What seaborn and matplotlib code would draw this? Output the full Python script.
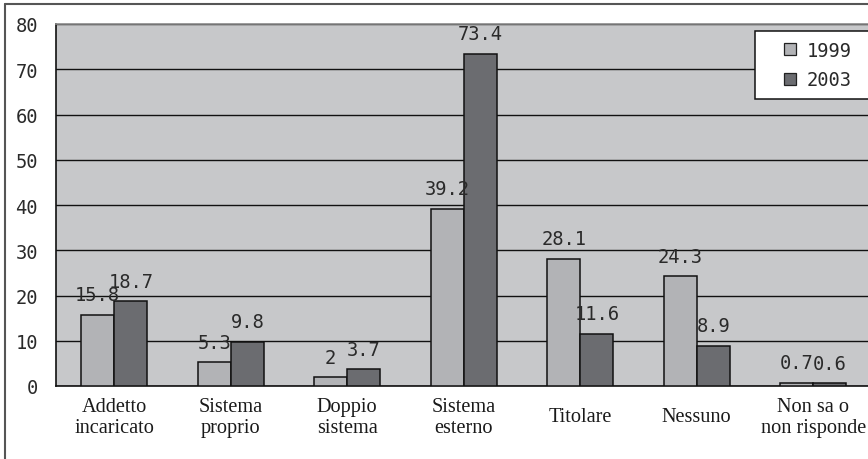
import matplotlib
matplotlib.use("Agg")
import matplotlib.pyplot as plt
from matplotlib.lines import Line2D
from matplotlib.ticker import FixedLocator
import numpy as np
import pandas as pd
import seaborn as sns

# --- data -------------------------------------------------------------
categories = ["Addetto\nincaricato", "Sistema\nproprio", "Doppio\nsistema",
              "Sistema\nesterno", "Titolare", "Nessuno", "Non sa o\nnon risponde"]
years = ["1999", "2003"]
values_1999 = [15.8, 5.3, 2, 39.2, 28.1, 24.3, 0.7]
values_2003 = [18.7, 9.8, 3.7, 73.4, 11.6, 8.9, 0.6]
y_ticks = [0, 10, 20, 30, 40, 50, 60, 70, 80]

df = pd.DataFrame({
    "categoria": categories * 2,
    "anno": [years[0]] * len(categories) + [years[1]] * len(categories),
    "valore": values_1999 + values_2003,
})

# --- styling ----------------------------------------------------------
sns.set_style("white")
mono = "DejaVu Sans Mono"
serif = "Liberation Serif"
plt.rcParams["font.family"] = [mono, "DejaVu Sans"]

text_col = "#2a2a2a"
bg_gray = "#c7c8ca"
palette = {"1999": "#b2b3b6", "2003": "#6b6c70"}

W, H = 868, 460
fig = plt.figure(figsize=(W / 100, H / 100), dpi=100)
fig.patch.set_facecolor("white")

left_px, right_px, top_px, bottom_px = 56, 871.5, 25, 387
ax = fig.add_axes([left_px / W, (H - bottom_px) / H,
                   (right_px - left_px) / W, (bottom_px - top_px) / H])
ax.set_facecolor(bg_gray)

sns.barplot(data=df, x="categoria", y="valore", hue="anno", order=categories,
            hue_order=years, palette=palette, width=0.57, edgecolor="#111111",
            linewidth=1.1, saturation=1, ax=ax, zorder=3, legend=False)

# value labels above each bar
for cont in ax.containers:
    ax.bar_label(cont, fmt="{:g}", padding=7.5, fontsize=13.5, family=mono,
                 color=text_col, zorder=5)

# axes limits, grid and spines
ax.set_xlim(-0.5, len(categories) - 0.5)
ax.set_ylim(0, 80)
ax.set_yticks(y_ticks)
ax.yaxis.grid(True, color="#111111", linewidth=1.0, zorder=1)
ax.set_axisbelow(True)
for side in ("left", "bottom"):
    ax.spines[side].set_color("#111111")
    ax.spines[side].set_linewidth(1.2)
ax.spines["top"].set_color("#8a8a8a")
ax.spines["top"].set_linewidth(1.2)
ax.spines["right"].set_visible(False)

ax.set_xlabel("")
ax.set_ylabel("")

# y ticks
ax.tick_params(axis="y", which="major", direction="out", length=5, width=1.2,
               color="#111111", pad=8, labelsize=13.5, labelcolor=text_col)

# category labels centred below each group, boundary ticks between groups
ax.set_xticks(range(len(categories)))
ax.set_xticklabels(categories, fontfamily=serif, fontsize=14.6, color="#1a1a1a")
for lab in ax.get_xticklabels():
    lab.set_verticalalignment("center")
    lab.set_multialignment("center")
    lab.set_linespacing(1.15)
ax.tick_params(axis="x", which="major", length=0, pad=22.3)
ax.xaxis.set_minor_locator(FixedLocator(np.arange(-0.5, len(categories), 1.0)))
ax.tick_params(axis="x", which="minor", direction="out", length=5, width=1.2,
               color="#111111")

# legend with square swatches; box runs past the right edge of the chart
handles = [Line2D([], [], linestyle="none", marker="s", markersize=8,
                  markerfacecolor=palette[y], markeredgecolor="#222222",
                  markeredgewidth=0.9) for y in years]
leg = ax.legend(handles, years, loc="upper left",
                bbox_to_anchor=(0.857, 0.798, 0.16, 0.184), mode="expand",
                frameon=True, fancybox=False, shadow=False, framealpha=1,
                edgecolor="#111111", facecolor="white",
                prop={"family": mono, "size": 13.5},
                handlelength=2.6, handletextpad=-0.4,
                labelspacing=0.55, borderpad=0.55, borderaxespad=0)
leg.get_frame().set_linewidth(1.1)
for t in leg.get_texts():
    t.set_color(text_col)

# outer chart border (left and top edges)
fig.add_artist(Line2D([4.5 / W, 4.5 / W], [0, 1 - 5 / H], transform=fig.transFigure,
                      color="#555555", linewidth=1.5))
fig.add_artist(Line2D([4.5 / W, 1.0], [1 - 5 / H, 1 - 5 / H], transform=fig.transFigure,
                      color="#555555", linewidth=1.5))

fig.savefig("out.png", dpi=100, facecolor="white")
